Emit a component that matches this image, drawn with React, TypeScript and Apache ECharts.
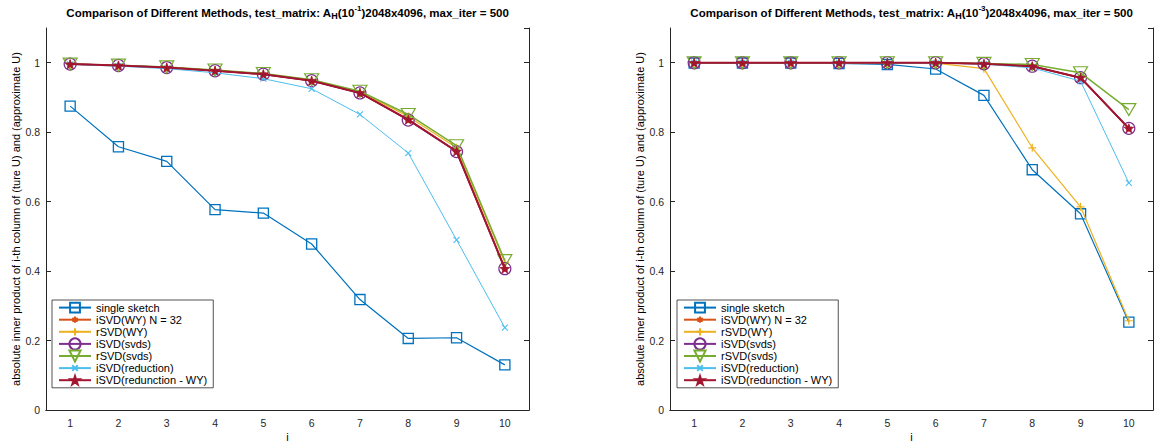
import React, { useEffect, useRef } from "react";
import * as echarts from "echarts";

const categories = ["1", "2", "3", "4", "5", "6", "7", "8", "9", "10"];
const seriesNames = [
  "single sketch",
  "iSVD(WY) N = 32",
  "rSVD(WY)",
  "iSVD(svds)",
  "rSVD(svds)",
  "iSVD(reduction)",
  "iSVD(redunction - WY)",
];
const yTickLabels = ["0", "0.2", "0.4", "0.6", "0.8", "1"];

// Left plot: A_H(10^-1)
const leftSingle = [0.875, 0.758, 0.716, 0.577, 0.567, 0.478, 0.318, 0.206, 0.208, 0.13];
const leftISVDWY = [0.996, 0.992, 0.986, 0.977, 0.967, 0.948, 0.913, 0.836, 0.745, 0.407];
const leftRSVDWY = [0.996, 0.992, 0.987, 0.978, 0.968, 0.95, 0.916, 0.845, 0.755, 0.425];
const leftISVDsvds = [0.996, 0.992, 0.986, 0.977, 0.967, 0.948, 0.913, 0.835, 0.744, 0.407];
const leftRSVDsvds = [0.996, 0.993, 0.988, 0.979, 0.969, 0.951, 0.918, 0.851, 0.761, 0.43];
const leftReduction = [0.995, 0.99, 0.983, 0.971, 0.954, 0.925, 0.851, 0.74, 0.49, 0.237];
const leftRedWY = [0.996, 0.992, 0.986, 0.977, 0.967, 0.948, 0.913, 0.836, 0.745, 0.407];

// Right plot: A_H(10^-3)
const rightSingle = [0.999, 0.999, 0.999, 0.998, 0.995, 0.982, 0.906, 0.692, 0.565, 0.253];
const rightISVDWY = [1, 1, 1, 1, 1, 1, 0.997, 0.99, 0.957, 0.811];
const rightRSVDWY = [1, 1, 1, 1, 1, 0.999, 0.983, 0.755, 0.585, 0.257];
const rightISVDsvds = [1, 1, 1, 1, 1, 1, 0.997, 0.99, 0.957, 0.811];
const rightRSVDsvds = [1, 1, 1, 1, 1, 1, 0.998, 0.995, 0.971, 0.865];
const rightReduction = [1, 1, 1, 1, 0.999, 0.999, 0.996, 0.985, 0.947, 0.654];
const rightRedWY = [1, 1, 1, 1, 1, 1, 0.997, 0.99, 0.957, 0.811];

const FONT = "'Liberation Sans', Arial, Helvetica, sans-serif";
const AXIS_COLOR = "#262626";

const colors = ["#0072BD", "#D95319", "#EDB120", "#7E2F8E", "#77AC30", "#4DBEEE", "#A2142F"];

// Symbol paths drawn inside a 20x20 box (corner moveTo points fix the box),
// so that the legend icon (fixed size) shows each marker at its own scale.
function boxed(body: string) {
  return "path://M0,0M20,20" + body;
}
function scalePts(pts: number[][], f: number) {
  return pts.map(([x, y]) => [10 + x * 10 * f, 10 + y * 10 * f]);
}
function poly(pts: number[][], close: boolean) {
  return pts.map((p, i) => (i ? "L" : "M") + p[0].toFixed(2) + "," + p[1].toFixed(2)).join("") + (close ? "Z" : "");
}
function segs(list: number[][][], f: number) {
  return list.map((s) => poly(scalePts(s, f), false)).join("");
}
const SQUARE = boxed(poly(scalePts([[-1, -1], [1, -1], [1, 1], [-1, 1]], 0.88), true));
const ASTER = boxed(
  segs(
    [
      [[0, -1], [0, 1]],
      [[-0.87, -0.5], [0.87, 0.5]],
      [[-0.87, 0.5], [0.87, -0.5]],
    ],
    0.56
  )
);
const PLUS = boxed(
  segs(
    [
      [[0, -1], [0, 1]],
      [[-1, 0], [1, 0]],
    ],
    0.64
  )
);
const CROSS = boxed(
  segs(
    [
      [[-1, -1], [1, 1]],
      [[1, -1], [-1, 1]],
    ],
    0.5
  )
);
const starPts: number[][] = [];
for (let k = 0; k < 10; k++) {
  const r = k % 2 === 0 ? 1 : 0.382;
  const a = ((-90 + 36 * k) * Math.PI) / 180;
  starPts.push([r * Math.cos(a), r * Math.sin(a) + 0.095]);
}
const STAR = boxed(poly(scalePts(starPts, 0.82), true));
const TRI_DOWN = "path://M0,0L10,0L5,8.66Z";

type Style = {
  symbol: string;
  size: number | number[];
  width: number;
  filled: boolean;
  border: number;
};
const styles: Style[] = [
  { symbol: SQUARE, size: 11.5, width: 1.2, filled: false, border: 1.3 },
  { symbol: ASTER, size: 12, width: 1.5, filled: false, border: 1.2 },
  { symbol: PLUS, size: 12.5, width: 1.2, filled: false, border: 1.2 },
  { symbol: "circle", size: 12, width: 1.5, filled: false, border: 1.2 },
  { symbol: TRI_DOWN, size: [14, 12], width: 1.5, filled: false, border: 1.2 },
  { symbol: CROSS, size: 12, width: 1, filled: false, border: 1.1 },
  { symbol: STAR, size: 12.5, width: 2, filled: true, border: 0.8 },
];

const leftData = [leftSingle, leftISVDWY, leftRSVDWY, leftISVDsvds, leftRSVDsvds, leftReduction, leftRedWY];
const rightData = [rightSingle, rightISVDWY, rightRSVDWY, rightISVDsvds, rightRSVDsvds, rightReduction, rightRedWY];

function makeSeries(data: number[][], axisIndex: number) {
  return data.map((vals, i) => {
    const s = styles[i];
    return {
      type: "line",
      name: seriesNames[i],
      xAxisIndex: axisIndex * 2,
      yAxisIndex: axisIndex * 2,
      data: vals,
      symbol: s.symbol,
      symbolSize: s.size,
      showAllSymbol: true,
      lineStyle: { color: colors[i], width: s.width },
      itemStyle: {
        color: s.filled ? colors[i] : "transparent",
        borderColor: colors[i],
        borderWidth: s.border,
      },
      emphasis: { disabled: true },
      z: 2 + i,
    };
  });
}

const title = (exp: string) => ({
  text:
    "Comparison of Different Methods, test_matrix: A{sub|H}(10{sup|" +
    exp +
    "})2048x4096, max_iter = 500",
  rich: {
    sub: { fontSize: 9, fontWeight: "bold", fontFamily: FONT, verticalAlign: "bottom", padding: [7, 0, 0, 0], fill: "#000" },
    sup: { fontSize: 8, fontWeight: "bold", fontFamily: FONT, verticalAlign: "top", padding: [0, 0, 5, 0], fill: "#000" },
  },
  fontSize: 11.5,
  fontWeight: "bold",
  fontFamily: FONT,
  fill: "#000",
  align: "center",
  verticalAlign: "middle",
});

export default function App() {
  const ref = useRef<HTMLDivElement>(null);
  useEffect(() => {
    if (!ref.current) return;
    const chart = echarts.init(ref.current, undefined, { renderer: "svg" });
    const grids = [
      { left: 46, top: 28, width: 483, height: 382, outerBoundsMode: "none", containLabel: false },
      { left: 670, top: 28, width: 483, height: 382, outerBoundsMode: "none", containLabel: false },
    ];
    const xAxes: any[] = [];
    const yAxes: any[] = [];
    [0, 1].forEach((g) => {
      xAxes.push({
        type: "category",
        gridIndex: g,
        data: categories,
        boundaryGap: true,
        position: "bottom",
        name: "i",
        nameLocation: "middle",
        nameGap: 21,
        nameMoveOverlap: false,
        nameTextStyle: { fontSize: 11, color: "#000", fontFamily: FONT },
        axisLine: { lineStyle: { color: AXIS_COLOR, width: 1 } },
        axisTick: { alignWithLabel: true, inside: true, length: 5, lineStyle: { color: AXIS_COLOR } },
        axisLabel: { fontSize: 10.5, color: AXIS_COLOR, fontFamily: FONT, margin: 7 },
        splitLine: { show: false },
      });
      xAxes.push({
        type: "category",
        gridIndex: g,
        data: categories,
        boundaryGap: true,
        position: "top",
        axisLine: { lineStyle: { color: AXIS_COLOR, width: 1 } },
        axisTick: { alignWithLabel: true, inside: true, length: 5, lineStyle: { color: AXIS_COLOR } },
        axisLabel: { show: false },
        splitLine: { show: false },
      });
      const yBase = {
        type: "value",
        gridIndex: g,
        min: 0,
        max: 1.1,
        interval: 0.2,
        splitLine: { show: false },
        axisLine: { show: true, lineStyle: { color: AXIS_COLOR, width: 1 } },
        axisTick: { show: true, inside: true, length: 5, lineStyle: { color: AXIS_COLOR } },
      };
      yAxes.push({
        ...yBase,
        position: "left",
        name: "absolute inner product of i-th column of (ture U) and (approximate U)",
        nameLocation: "middle",
        nameGap: 25,
        nameMoveOverlap: false,
        nameTextStyle: { fontSize: 11, color: "#000", fontFamily: FONT },
        axisLabel: {
          fontSize: 10.5,
          color: AXIS_COLOR,
          fontFamily: FONT,
          margin: 6,
          showMaxLabel: false,
          formatter: (v: number) => {
            const k = Math.round(v * 5);
            if (Math.abs(v * 5 - k) > 1e-6 || k > 5) return "";
            return yTickLabels[k];
          },
        },
      });
      yAxes.push({
        ...yBase,
        position: "right",
        axisLabel: { show: false },
      });
    });

    const legendBase = {
      orient: "vertical",
      top: 300,
      itemWidth: 32,
      itemHeight: 14,
      itemGap: -1.1,
      padding: [1, 6, 1, 6],
      borderColor: AXIS_COLOR,
      borderWidth: 0.8,
      backgroundColor: "#fff",
      selectedMode: false,
      textStyle: { fontSize: 11, color: "#000", fontFamily: FONT },
      data: seriesNames,
      z: 10,
    };

    chart.setOption({
      animation: false,
      backgroundColor: "#fff",
      grid: grids,
      xAxis: xAxes,
      yAxis: yAxes,
      legend: [
        { ...legendBase, left: 52 },
        { ...legendBase, left: 677 },
      ],
      graphic: [
        { type: "text", x: 287.5, y: 12.5, style: title("-1"), z: 10 },
        { type: "text", x: 911.5, y: 12.5, style: title("-3"), z: 10 },
      ],
      series: [...makeSeries(leftData, 0), ...makeSeries(rightData, 1)],
    });
    return () => chart.dispose();
  }, []);
  return (
    <div
      ref={ref}
      style={{ position: "fixed", left: 0, top: 0, width: 1157, height: 443, background: "#fff" }}
    />
  );
}
